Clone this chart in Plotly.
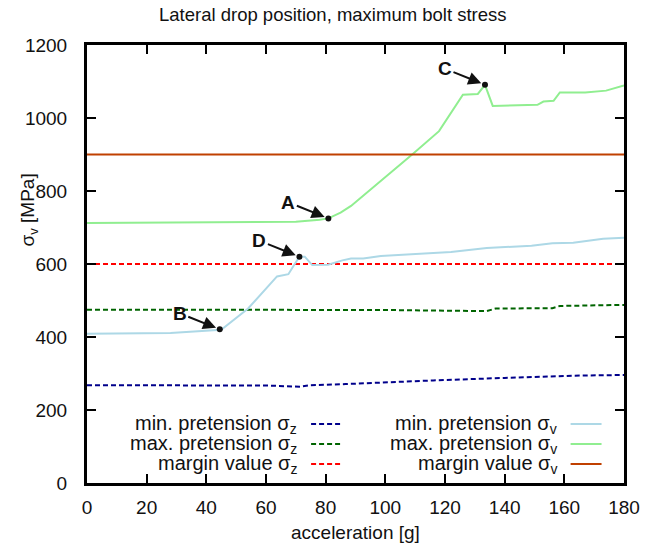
import plotly.graph_objects as go

# ---------------- data ----------------
acc_min_sv = [0, 28, 45, 54, 63.7, 67.5, 69, 71.2, 73, 75.5, 80.8, 85.6, 88.5, 92.6, 98.5, 110, 122, 134, 149, 156, 163, 173, 180]
min_sv = [409, 411, 420, 478, 566, 572, 592, 620, 620, 597, 598, 610, 615, 615, 622, 627, 633, 644, 650, 657, 658, 669, 672]

acc_max_sv = [0, 30, 60, 70, 78, 80.9, 85, 88.5, 109, 118, 126, 131, 133.4, 136, 151, 153, 156.4, 158.5, 167, 174, 180]
max_sv = [712, 713, 714, 716, 721, 725, 741, 759, 900, 964, 1064, 1066, 1091, 1033, 1036, 1045, 1047, 1070, 1070, 1075, 1089]

acc_min_sz = [0, 60, 71.4, 75, 86.7, 100, 116, 140, 163, 180]
min_sz = [268, 267, 264, 268, 271, 276, 281, 288, 294, 296]

acc_max_sz = [0, 100, 132.7, 134, 137, 156, 158.5, 180]
max_sz = [475, 474, 471, 471, 478, 479, 485, 488]

acc_margin = [0, 180]
margin_sz = [600, 600]
margin_sv = [900, 900]

point_labels = ["A", "B", "C", "D"]
point_x = [80.9, 44.5, 133.4, 71.2]
point_y = [725, 421, 1091, 620]

x_ticks = list(range(0, 181, 20))
y_ticks = list(range(0, 1201, 200))

# ---------------- styles ----------------
FONT = "Liberation Sans, Arial, sans-serif"
series = [
    ("min. pretension σ<sub>z</sub>", acc_min_sz, min_sz, "#00008b", "5px,3px"),
    ("max. pretension σ<sub>z</sub>", acc_max_sz, max_sz, "#006400", "5px,3px"),
    ("margin value σ<sub>z</sub>", acc_margin, margin_sz, "#ff0000", "5px,3px"),
    ("min. pretension σ<sub>v</sub>", acc_min_sv, min_sv, "#add8e6", "solid"),
    ("max. pretension σ<sub>v</sub>", acc_max_sv, max_sv, "#90ee90", "solid"),
    ("margin value σ<sub>v</sub>", acc_margin, margin_sv, "#c04000", "solid"),
]

fig = go.Figure()
for name, xs, ys, col, dash in series:
    fig.add_trace(go.Scatter(x=xs, y=ys, mode="lines", name=name,
                             line=dict(color=col, width=2, dash=dash),
                             showlegend=False))

fig.add_trace(go.Scatter(x=point_x, y=point_y, mode="markers",
                         marker=dict(color="#111111", size=6),
                         showlegend=False))

annotations = []
for lab, px, py in zip(point_labels, point_x, point_y):
    annotations.append(dict(
        x=px, y=py, xref="x", yref="y", text="<b>%s</b>" % lab,
        showarrow=True, arrowhead=2, arrowsize=1.3, arrowwidth=2,
        arrowcolor="#111111", ax=-40, ay=-16, standoff=4,
        font=dict(family=FONT, size=19, color="#111111")))

# legend drawn as text + sample line (text on the left, sample on the right)
L, R, T, B = 86.5, 624.5, 45, 483
W, H = R - L, B - T
def px2paper(x, y):
    return (x - L) / W, (B - y) / H

shapes = []
col_text_right = [299, 559]
col_line = [(311, 342), (571, 602)]
row_y = [424, 444, 464]
for i, (name, xs, ys, col, dash) in enumerate(series):
    c, r = divmod(i, 3)
    tx, ty = px2paper(col_text_right[c], row_y[r])
    annotations.append(dict(x=tx, y=ty, xref="paper", yref="paper", text=name,
                            showarrow=False, xanchor="right", yanchor="middle",
                            font=dict(family=FONT, size=20, color="#111111")))
    x0, y0 = px2paper(col_line[c][0], row_y[r])
    x1, _ = px2paper(col_line[c][1], row_y[r])
    shapes.append(dict(type="line", xref="paper", yref="paper", x0=x0, x1=x1, y0=y0, y1=y0,
                       line=dict(color=col, width=2, dash=dash)))

# titles
tx, ty = px2paper(333, 14)
annotations.append(dict(x=tx, y=ty, xref="paper", yref="paper",
                        text="Lateral drop position, maximum bolt stress",
                        showarrow=False, xanchor="center", yanchor="middle",
                        font=dict(family=FONT, size=18.5, color="#111111")))
tx, ty = px2paper(356, 532)
annotations.append(dict(x=tx, y=ty, xref="paper", yref="paper",
                        text="acceleration [g]",
                        showarrow=False, xanchor="center", yanchor="middle",
                        font=dict(family=FONT, size=19, color="#111111")))
tx, ty = px2paper(28, 210)
annotations.append(dict(x=tx, y=ty, xref="paper", yref="paper",
                        text="σ<sub>v</sub> [MPa]", textangle=-90,
                        showarrow=False, xanchor="center", yanchor="middle",
                        font=dict(family=FONT, size=19, color="#111111")))

axis_common = dict(showgrid=False, zeroline=False, showline=True, linecolor="#000000",
                   linewidth=3, mirror="ticks", ticks="inside", ticklen=9,
                   tickwidth=2, tickcolor="#000000",
                   tickfont=dict(family=FONT, size=19, color="#111111"))

fig.update_layout(
    width=656, height=546,
    margin=dict(l=L, r=656 - R, t=T, b=546 - B, pad=0),
    paper_bgcolor="white", plot_bgcolor="white",
    xaxis=dict(range=[0, 180], tickvals=x_ticks, ticklabelstandoff=5, **axis_common),
    yaxis=dict(range=[0, 1200], tickvals=y_ticks, ticklabelstandoff=13, **axis_common),
    annotations=annotations, shapes=shapes,
    showlegend=False,
)

fig.write_html("out.html")
